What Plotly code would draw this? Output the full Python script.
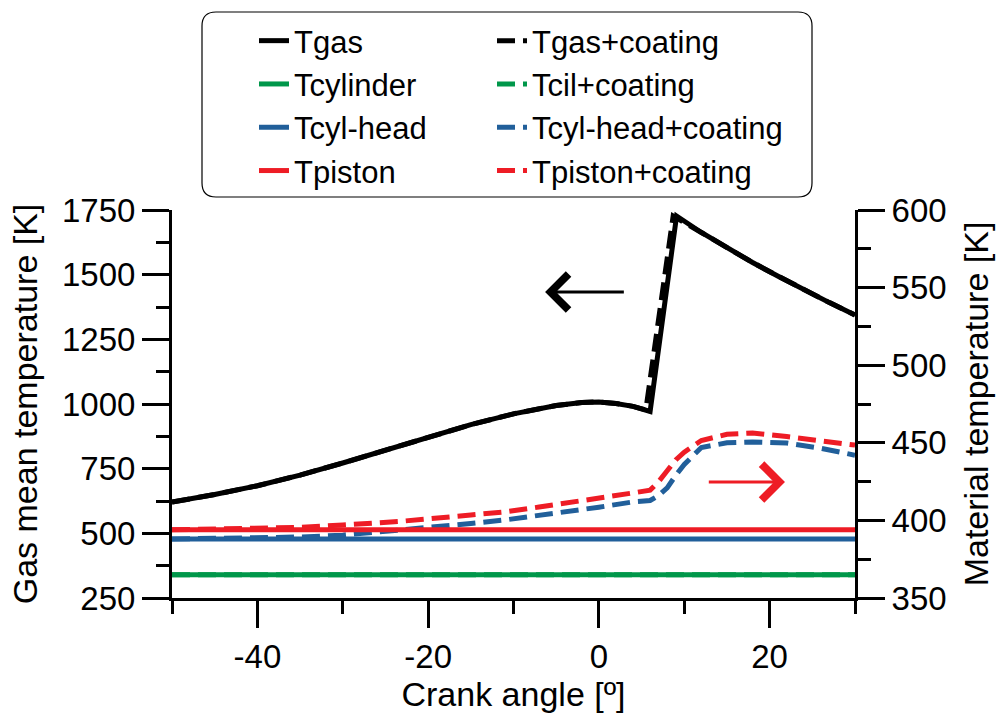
import plotly.graph_objects as go

# ---- data ----
gas_x = [-50, -45, -40, -35, -30, -25, -20, -15, -10, -5, -2, 0, 2, 4, 6, 9.1, 12, 15, 18, 21, 24, 27, 30]
gas_y = [621, 650, 684, 725, 772, 822, 872, 920, 962, 994, 1006, 1008, 1002, 991, 971, 1727, 1663, 1603, 1547, 1494, 1442, 1392, 1344]

gasc_x = [-50, -45, -40, -35, -30, -25, -20, -15, -10, -5, -2, 0, 2, 4, 5.5, 8.7, 12, 15, 18, 21, 24, 27, 30]
gasc_y = [621, 650, 684, 725, 772, 822, 872, 920, 962, 994, 1006, 1008, 1002, 991, 977, 1727, 1663, 1603, 1547, 1494, 1442, 1392, 1344]

mat_x_const = [-50, 30]
cyl_y = [365, 365]
cylc_y = [365, 365]
head_y = [388, 388]
piston_y = [394, 394]

mat_x = [-50, -40, -35, -30, -23, -15, -11, -7, 0, 4, 6, 7, 8, 9, 10, 12, 15, 18, 22, 26, 30]
pistonc_y = [394, 394.5, 395.5, 397, 399.5, 403.5, 405.5, 408.6, 414, 417.7, 419.5, 425, 432, 439, 444, 451.5, 455.5, 456.3, 454, 451, 448.5]
headc_y = [388, 388.5, 389.3, 390.5, 393.8, 398, 400.3, 403, 408.5, 411.9, 412.8, 416, 421, 429, 436, 447, 450, 450.5, 449.8, 446.5, 442]

x_tickvals = [-40, -20, 0, 20]
x_ticktext = ["-40", "-20", "0", "20"]

BLACK = "#000000"
GREEN = "#00974A"
BLUE = "#215F9A"
RED = "#EE1C25"
FONT = "Liberation Sans, Arial, sans-serif"
LW = 5
DASH = "18px,8px"

fig = go.Figure()

def add(x, y, name, color, dash, yaxis, legend):
    fig.add_trace(go.Scatter(
        x=x, y=y, name=name, mode="lines", yaxis=yaxis,
        line=dict(color=color, width=LW, dash=dash),
        legend=legend, hoverinfo="skip"))

add(gasc_x, gasc_y, "Tgas+coating", BLACK, DASH, "y", "legend2")
add(gas_x, gas_y, "Tgas", BLACK, "solid", "y", "legend")
add(mat_x_const, cyl_y, "Tcylinder", GREEN, "solid", "y2", "legend")
add(mat_x_const, cylc_y, "Tcil+coating", GREEN, DASH, "y2", "legend2")
add(mat_x_const, head_y, "Tcyl-head", BLUE, "solid", "y2", "legend")
add(mat_x, headc_y, "Tcyl-head+coating", BLUE, DASH, "y2", "legend2")
add(mat_x_const, piston_y, "Tpiston", RED, "solid", "y2", "legend")
add(mat_x, pistonc_y, "Tpiston+coating", RED, DASH, "y2", "legend2")

TICKFONT = dict(family=FONT, size=33, color="black")
TITLEFONT = dict(family=FONT, size=34, color="black")
axis_common = dict(
    showline=True, linewidth=3, linecolor="black",
    ticks="outside", tickwidth=3, tickcolor="black", ticklen=27,
    showgrid=False, zeroline=False, tickfont=TICKFONT,
)
minor = lambda d: dict(dtick=d, ticklen=13, tickwidth=3, tickcolor="black", ticks="outside")

PW, PH = 683, 388
legend_common = dict(
    orientation="v", yanchor="top", xanchor="left",
    font=dict(family=FONT, size=31, color="black"),
    bgcolor="rgba(0,0,0,0)", borderwidth=0, traceorder="normal",
)

fig.update_layout(
    width=1004, height=724,
    margin=dict(l=172, r=149, t=210, b=126),
    paper_bgcolor="white", plot_bgcolor="white",
    font=dict(family=FONT, color="black"),
    xaxis=dict(
        range=[-50, 30], tickvals=x_tickvals, ticktext=x_ticktext,
        minor=dict(tickvals=[-50, -30, -10, 10, 30], ticklen=13, tickwidth=3, tickcolor="black", ticks="outside"),
        title=dict(text="Crank angle [º]", font=TITLEFONT, standoff=8),
        **axis_common),
    yaxis=dict(
        range=[250, 1750], tick0=250, dtick=250, minor=minor(125),
        title=dict(text="Gas mean temperature [K]", font=TITLEFONT, standoff=15),
        **axis_common),
    yaxis2=dict(
        range=[350, 600], tick0=350, dtick=50, overlaying="y", side="right", minor=minor(25),
        title=dict(text="Material temperature [K]", font=TITLEFONT, standoff=19),
        **axis_common),
    showlegend=True,
    legend=dict(x=(254 - 172) / PW, y=(598 - 14) / PH, **legend_common),
    legend2=dict(x=(492 - 172) / PW, y=(598 - 14) / PH, **legend_common),
)

# rounded legend frame
x0, x1 = (202 - 172) / PW, (812 - 172) / PW
y0, y1 = (598 - 197) / PH, (598 - 12) / PH
rx, ry = 14 / PW, 14 / PH
path = (f"M{x0+rx},{y1} L{x1-rx},{y1} Q{x1},{y1} {x1},{y1-ry} L{x1},{y0+ry} "
        f"Q{x1},{y0} {x1-rx},{y0} L{x0+rx},{y0} Q{x0},{y0} {x0},{y0+ry} "
        f"L{x0},{y1-ry} Q{x0},{y1} {x0+rx},{y1} Z")
fig.add_shape(type="path", path=path, xref="paper", yref="paper",
              line=dict(color="black", width=1.2), fillcolor="rgba(0,0,0,0)", layer="above")

fig.add_annotation(x=-6.3, y=1433, ax=3.1, ay=1433, xref="x", yref="y", axref="x", ayref="y",
                   showarrow=True, arrowhead=4, arrowsize=2.3, arrowwidth=3, arrowcolor=BLACK, text="")
fig.add_annotation(x=21.8, y=424.7, ax=12.7, ay=424.7, xref="x", yref="y2", axref="x", ayref="y2",
                   showarrow=True, arrowhead=4, arrowsize=2.3, arrowwidth=3, arrowcolor=RED, text="")

fig.write_html("out.html")
